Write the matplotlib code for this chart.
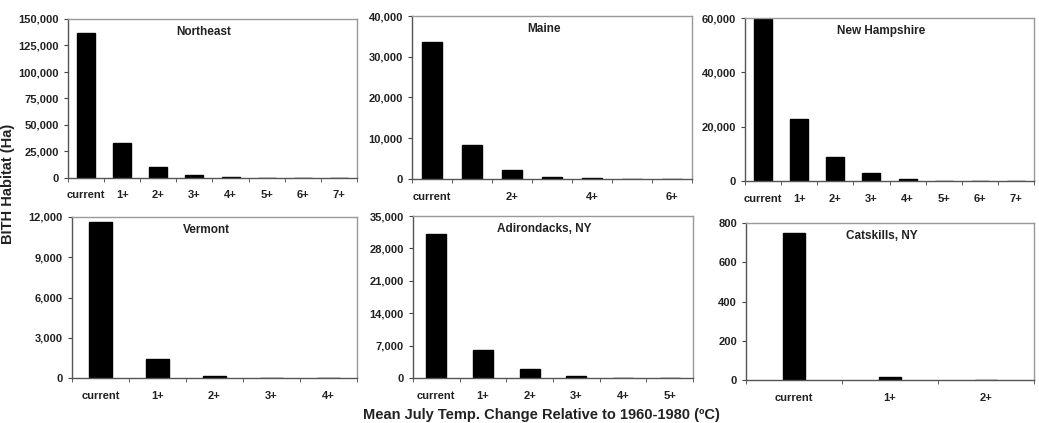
import matplotlib.pyplot as plt
import numpy as np
from matplotlib.ticker import FuncFormatter

plt.rcParams['font.family'] = ['Liberation Sans', 'DejaVu Sans']

# data
northeast_cats = ["current", "1+", "2+", "3+", "4+", "5+", "6+", "7+"]
northeast_vals = [136500, 33000, 10500, 3000, 500, 0, 0, 0]

maine_cats = ["current", "1+", "2+", "3+", "4+", "5+", "6+"]
maine_vals = [33600, 8300, 2200, 600, 150, 0, 0]

nh_cats = ["current", "1+", "2+", "3+", "4+", "5+", "6+", "7+"]
nh_vals = [59500, 23000, 8700, 3100, 900, 0, 0, 0]

vermont_cats = ["current", "1+", "2+", "3+", "4+"]
vermont_vals = [11600, 1450, 180, 0, 0]

adk_cats = ["current", "1+", "2+", "3+", "4+", "5+"]
adk_vals = [31200, 6100, 1950, 500, 0, 0]

catskills_cats = ["current", "1+", "2+"]
catskills_vals = [750, 14, 0]

W, H = 1039, 423
fig = plt.figure(figsize=(W / 100, H / 100), dpi=100)


def px_axes(left, top, right, bottom):
    return fig.add_axes([left / W, 1 - bottom / H, (right - left) / W, (bottom - top) / H])


def panel(ax, cats, vals, title, ymax, ystep, bar_w, label_every=1):
    x = np.arange(len(cats))
    ax.bar(x, vals, width=bar_w, color="black", edgecolor="black")
    ax.set_xlim(-0.5, len(cats) - 0.5)
    ax.set_ylim(0, ymax)
    ax.set_yticks(np.arange(0, ymax + 1, ystep))
    ax.yaxis.set_major_formatter(FuncFormatter(lambda v, p: f"{int(v):,}"))
    ax.set_xticks(x[::label_every])
    ax.set_xticklabels(cats[::label_every])
    ax.set_xticks(np.arange(len(cats) + 1) - 0.5, minor=True)
    ax.tick_params(axis="x", which="major", length=0, pad=9, labelsize=8)
    ax.tick_params(axis="x", which="minor", length=3, direction="out", color="#444444")
    ax.tick_params(axis="y", length=3, direction="out", labelsize=8, color="#444444")
    for lab in ax.get_xticklabels() + ax.get_yticklabels():
        lab.set_fontweight("bold")
        lab.set_color("#222222")
    for s in ["top", "right"]:
        ax.spines[s].set_color("#999999")
    for s in ["left", "bottom"]:
        ax.spines[s].set_color("#555555")
    for s in ax.spines.values():
        s.set_linewidth(1.0)
    ax.text(0.47, 0.92, title, transform=ax.transAxes, ha="center", va="center",
            fontsize=8.5, fontweight="bold", color="#222222")


panel(px_axes(68, 19, 357, 178), northeast_cats, northeast_vals, "Northeast", 150000, 25000, 0.5)
panel(px_axes(412, 16, 692, 179), maine_cats, maine_vals, "Maine", 40000, 10000, 0.48, label_every=2)
panel(px_axes(745, 18, 1034, 181), nh_cats, nh_vals, "New Hampshire", 60000, 20000, 0.5)
panel(px_axes(72, 217, 357, 378), vermont_cats, vermont_vals, "Vermont", 12000, 3000, 0.39)
panel(px_axes(413, 216, 693, 378), adk_cats, adk_vals, "Adirondacks, NY", 35000, 7000, 0.43)
panel(px_axes(746, 223, 1034, 380), catskills_cats, catskills_vals, "Catskills, NY", 800, 200, 0.23)

fig.text(8 / W, 1 - 184 / H, "BITH Habitat (Ha)", rotation=90, ha="center", va="center",
         fontsize=10.5, fontweight="bold", color="#222222")
fig.text(541 / W, 1 / H, "Mean July Temp. Change Relative to 1960-1980 (ºC)", ha="center",
         va="bottom", fontsize=10.5, fontweight="bold", color="#222222")

fig.savefig("out.png", dpi=100)
